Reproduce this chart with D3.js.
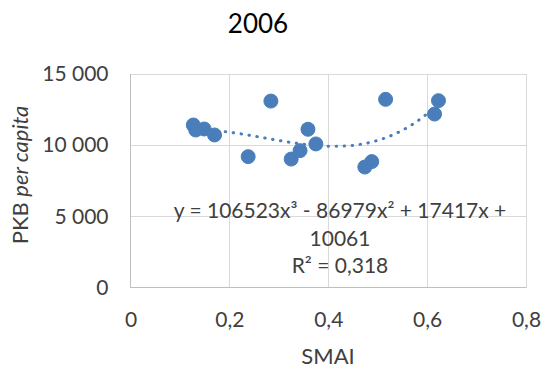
<!DOCTYPE html>
<html>
    <head>
        <meta charset="utf-8">
        <script src="https://d3js.org/d3.v7.min.js"></script>
        <style>
            body {
                margin: 0;
                background: #ffffff;
            }

            #chart-svg .font {
                font-family: Lato, "Open Sans", sans-serif;
                fill: #404040;
            }

            #chart-svg .title {
                font-size: 26px;
                fill: #000000;
            }

            #chart-svg .tick text {
                font-family: Lato, "Open Sans", sans-serif;
                font-size: 21px;
                fill: #404040;
            }

            #chart-svg .axis-label {
                font-size: 22px;
            }

            #chart-svg .equation {
                font-size: 21px;
            }

            #chart-svg .grid line {
                stroke: #d9d9d9;
                stroke-width: 1;
                shape-rendering: crispEdges;
            }

            #chart-svg .axis-line {
                stroke: #bfbfbf;
                stroke-width: 1.5;
                shape-rendering: crispEdges;
            }

            #chart-svg .trend {
                fill: none;
                stroke: #4a7ebb;
                stroke-width: 3;
                stroke-linecap: round;
                stroke-dasharray: 0.5 7.5;
            }

            #chart-svg .dot {
                fill: #4a7ebb;
                stroke: #4a7ebb;
                stroke-width: 1;
            }
        </style>
    </head>
    <body>
        <script>
            const SVG_WIDTH = 544;
            const SVG_HEIGHT = 370;
            const PLOT_LEFT = 130.5;
            const PLOT_RIGHT = 526;
            const PLOT_TOP = 74;
            const PLOT_BOTTOM = 287.7;

            const TITLE_TXT = "2006";
            const X_LABEL = "SMAI";
            const Y_LABEL_MAIN = "PKB ";
            const Y_LABEL_ITALIC = "per capita";

            // SMAI values and PKB per capita
            const smaiValues = [0.127, 0.132, 0.149, 0.170, 0.238, 0.284, 0.325, 0.343,
                0.359, 0.375, 0.474, 0.488, 0.516, 0.615, 0.623];
            const pkbValues = [11420, 11070, 11140, 10720, 9200, 13100, 9030, 9620,
                11120, 10090, 8470, 8850, 13220, 12190, 13130];

            // polynomial trendline coefficients as printed in the chart (x^3, x^2, x, 1)
            const trendCoefficients = [106523, -86979, 17417, 10061];
            const equationLines = ["y = 106523x³ - 86979x² + 17417x +", "10061", "R² = 0,318"];

            const xTicks = [0, 0.2, 0.4, 0.6, 0.8];
            const yTicks = [0, 5000, 10000, 15000];

            var locale = d3.formatLocale({
                decimal: ",",
                thousands: " ",
                grouping: [3],
                currency: ["", ""]
            });

            var svg = d3.select("body")
                .append("svg")
                .attr("width", SVG_WIDTH)
                .attr("height", SVG_HEIGHT)
                .attr("id", "chart-svg");

            var xScale = d3.scaleLinear()
                .domain([0, 0.8])
                .range([PLOT_LEFT, PLOT_RIGHT]);
            var yScale = d3.scaleLinear()
                .domain([0, 15000])
                .range([PLOT_BOTTOM, PLOT_TOP]);

            // gridlines
            svg.append("g")
                .classed("grid", true)
                .selectAll("line.v")
                .data(xTicks)
                .enter()
                .append("line")
                .attr("x1", function(d) { return xScale(d); })
                .attr("x2", function(d) { return xScale(d); })
                .attr("y1", PLOT_TOP)
                .attr("y2", PLOT_BOTTOM);
            svg.select(".grid")
                .selectAll("line.h")
                .data(yTicks)
                .enter()
                .append("line")
                .attr("x1", PLOT_LEFT)
                .attr("x2", PLOT_RIGHT)
                .attr("y1", function(d) { return yScale(d); })
                .attr("y2", function(d) { return yScale(d); });

            svg.append("line")
                .classed("axis-line", true)
                .attr("x1", PLOT_LEFT)
                .attr("x2", PLOT_RIGHT)
                .attr("y1", yScale(0))
                .attr("y2", yScale(0));
            svg.append("line")
                .classed("axis-line", true)
                .attr("x1", xScale(0))
                .attr("x2", xScale(0))
                .attr("y1", PLOT_TOP)
                .attr("y2", PLOT_BOTTOM);

            // axes (labels only)
            var xAxis = d3.axisBottom(xScale)
                .tickValues(xTicks)
                .tickSize(0)
                .tickPadding(24)
                .tickFormat(function(d) { return d === 0 ? "0" : locale.format(".1f")(d); });
            var xAxisGroup = svg.append("g")
                .attr("transform", "translate(0," + PLOT_BOTTOM + ")")
                .call(xAxis);
            xAxisGroup.select(".domain").remove();

            var yAxis = d3.axisLeft(yScale)
                .tickValues(yTicks)
                .tickSize(0)
                .tickPadding(22)
                .tickFormat(locale.format(",d"));
            var yAxisGroup = svg.append("g")
                .attr("transform", "translate(" + PLOT_LEFT + ",0)")
                .call(yAxis);
            yAxisGroup.select(".domain").remove();

            // trendline over the data range
            var xExtent = d3.extent(smaiValues);
            var trendX = d3.range(0, 101).map(function(i) {
                return xExtent[0] + (xExtent[1] - xExtent[0]) * i / 100;
            });
            var trendLine = d3.line()
                .x(function(d) { return xScale(d); })
                .y(function(d) {
                    var c = trendCoefficients;
                    return yScale(c[0] * d * d * d + c[1] * d * d + c[2] * d + c[3]);
                });
            svg.append("path")
                .datum(trendX)
                .classed("trend", true)
                .attr("d", trendLine);

            svg.selectAll(".dot")
                .data(smaiValues)
                .enter()
                .append("circle")
                .classed("dot", true)
                .attr("cx", function(d) { return xScale(d); })
                .attr("cy", function(d, i) { return yScale(pkbValues[i]); })
                .attr("r", 7);

            // equation label
            svg.selectAll(".equation")
                .data(equationLines)
                .enter()
                .append("text")
                .classed("equation font", true)
                .attr("text-anchor", "middle")
                .attr("x", 340)
                .attr("y", function(d, i) { return 218 + i * 27.5; })
                .text(function(d) { return d; });

            svg.append("text")
                .classed("title font", true)
                .attr("text-anchor", "middle")
                .attr("x", 258)
                .attr("y", 33)
                .text(TITLE_TXT);

            svg.append("text")
                .classed("axis-label font", true)
                .attr("text-anchor", "middle")
                .attr("x", 328)
                .attr("y", 364)
                .text(X_LABEL);

            var yLabel = svg.append("text")
                .classed("axis-label font", true)
                .attr("text-anchor", "middle")
                .attr("transform", "translate(28,175) rotate(-90)");
            yLabel.append("tspan").text(Y_LABEL_MAIN);
            yLabel.append("tspan").attr("font-style", "italic").text(Y_LABEL_ITALIC);
        </script>
    </body>
</html>
